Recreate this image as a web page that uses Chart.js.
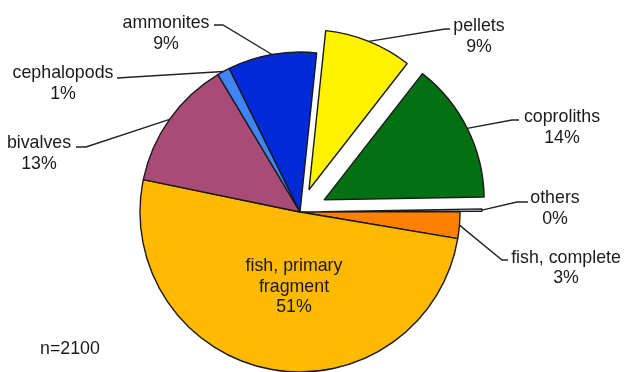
<!DOCTYPE html>
<html><head><meta charset="utf-8">
<script src="https://cdn.jsdelivr.net/npm/chart.js@4"></script>
<style>html,body{margin:0;padding:0;background:#fff}canvas{display:block}</style>
</head><body>
<canvas id="c" width="624" height="372"></canvas>
<script>
// ---- data ----
const categories = ['pellets','coproliths','others','fish, complete','fish, primary fragment','bivalves','cephalopods','ammonites'];
const counts = [186, 298, 5, 57, 1062, 277, 27, 188];
const percentLabels = ['9%','14%','0%','3%','51%','13%','1%','9%'];
const sampleLabel = 'n=2100';

// ---- styles / layout ----
const colors = ['#FFF200','#037113','#BCC1DC','#FF8000','#FFB900','#A84B76','#3F84F8','#0329D8'];
const explode = [24, 27, 22, 0, 0, 0, 0, 0];
const FONT = '17.8px "Liberation Sans", Arial, sans-serif';
const labelLayout = [
  {x:479, y:31, lh:21, path:[[450,29],[445,29]]},
  {x:562, y:122, lh:21, path:[[519,120],[512,120]]},
  {x:555, y:203, lh:21, path:[[528,202],[517,202]]},
  {x:566, y:263, lh:20, path:[[508,260],[502,260]]},
  {x:294, y:271, lh:20.5, nameLines:['fish, primary','fragment'], path:null},
  {x:39, y:148, lh:21, path:[[76,147],[86,147]]},
  {x:63, y:78, lh:21, path:[[117,78]]},
  {x:166, y:27.5, lh:21, path:[[214,25],[223,25]]}
];

const explodePlugin = {
  id: 'explodeSlices',
  beforeDatasetDraw(chart, args) {
    args.meta.data.forEach((arc, i) => {
      const d = explode[i] || 0;
      const mid = (arc.startAngle + arc.endAngle) / 2;
      arc._bx = arc.x; arc._by = arc.y;
      arc.x += Math.cos(mid) * d;
      arc.y += Math.sin(mid) * d;
    });
  },
  afterDatasetDraw(chart, args) {
    args.meta.data.forEach(arc => { arc.x = arc._bx; arc.y = arc._by; });
  }
};

const labelPlugin = {
  id: 'sliceLabels',
  afterDraw(chart) {
    const ctx = chart.ctx;
    const meta = chart.getDatasetMeta(0);
    ctx.save();
    ctx.font = FONT;
    ctx.fillStyle = '#1a1a1a';
    ctx.strokeStyle = '#222';
    ctx.lineWidth = 1.4;
    ctx.textAlign = 'center';
    ctx.textBaseline = 'alphabetic';
    meta.data.forEach((arc, i) => {
      const L = labelLayout[i];
      const d = explode[i] || 0;
      const mid = (arc.startAngle + arc.endAngle) / 2;
      if (L.path) {
        const ax = arc.x + Math.cos(mid) * (d + arc.outerRadius);
        const ay = arc.y + Math.sin(mid) * (d + arc.outerRadius);
        ctx.beginPath();
        ctx.moveTo(L.path[0][0], L.path[0][1]);
        for (let k = 1; k < L.path.length; k++) ctx.lineTo(L.path[k][0], L.path[k][1]);
        ctx.lineTo(ax, ay);
        ctx.stroke();
      }
      const lines = (L.nameLines || [categories[i]]).concat([percentLabels[i]]);
      lines.forEach((t, k) => ctx.fillText(t, L.x, L.y + k * L.lh));
    });
    ctx.textAlign = 'left';
    ctx.fillText(sampleLabel, 40, 354);
    ctx.restore();
  }
};

new Chart(document.getElementById('c'), {
  type: 'pie',
  data: {
    labels: categories,
    datasets: [{
      data: counts,
      backgroundColor: colors,
      borderColor: '#1a1a1a',
      borderWidth: 1.4,
      radius: 160
    }]
  },
  options: {
    responsive: false,
    animation: false,
    rotation: 6,
    layout: {padding: {left: 0, right: 24, top: 52, bottom: 0}},
    plugins: {legend: {display: false}, tooltip: {enabled: false}}
  },
  plugins: [explodePlugin, labelPlugin]
});
</script>
</body></html>
